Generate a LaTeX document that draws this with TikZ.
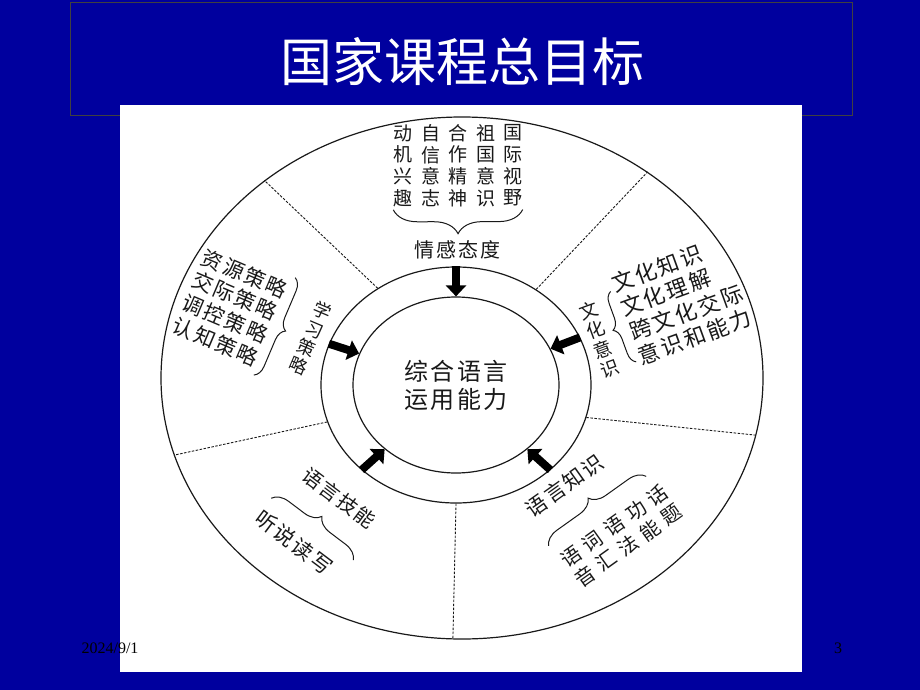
\documentclass[tikz,border=0pt]{standalone}
\usepackage{fontspec}
\setmainfont{Liberation Serif}
\newfontfamily\cjk{Noto Sans CJK SC}
\newfontfamily\cjkls[LetterSpace=10]{Noto Sans CJK SC}
\usetikzlibrary{positioning,shapes.geometric,arrows.meta,decorations.pathreplacing}
\definecolor{slideblue}{RGB}{0,0,158}
\definecolor{ink}{RGB}{25,25,25}

\begin{document}
\begin{tikzpicture}[x=1pt,y=1pt,
  ring/.style={ellipse, draw=ink, line width=1.2pt, inner sep=0pt},
  divider/.style={draw=ink, line width=0.9pt, dash pattern=on 2.5pt off 1.5pt},
  bigarrow/.style={draw=black, line width=8pt, -{Triangle[length=11pt,width=20pt]}},
  brc/.style={draw=ink, line width=1pt, decorate, decoration={brace, amplitude=#1}},
  brc/.default=14pt,
  word/.style={font=\cjkls\fontsize{20}{22}\selectfont, text=ink, inner sep=0pt},
  col/.style={font=\cjk\fontsize{19}{21.7}\selectfont, text=ink, align=center, inner sep=0pt},
  node distance=27.5pt]

  % slide
  \fill[slideblue] (0,0) rectangle (920,-690);
  \useasboundingbox (0,0) rectangle (920,-690);
  \draw[black!75, line width=0.8pt] (70,-2) rectangle (852,-115);
  \fill[white] (120,-105) rectangle (802,-672);
  \node[font=\cjk\fontsize{52}{60}\selectfont, text=white] (title) at (462,-62) {国家课程总目标};
  \node[font=\fontsize{16}{18}\selectfont, text=black] (date) at (110,-648) {2024/9/1};
  \node[font=\fontsize{16}{18}\selectfont, text=black] (page) at (838,-648) {3};

  % rings
  \node[ring, minimum width=602pt, minimum height=522pt] (outer) at (462,-378) {};
  \node[ring, minimum width=270pt, minimum height=236pt] (mid) at (456,-385) {};
  \node[ring, minimum width=206pt, minimum height=176pt] (core) at (456,-385) {};
  \node[font=\cjkls\fontsize{24}{28}\selectfont, align=center, text=ink] (goal) at (core.center) {综合语言\\运用能力};

  \foreach \a in {90,162,21,222,318}
    \draw[bigarrow] (mid.\a) -- (core.\a);

  \draw[divider] (mid.129) -- (outer.135);
  \draw[divider] (mid.50) -- (outer.48);
  \draw[divider] (mid.346) -- (outer.349);
  \draw[divider] (mid.196) -- (outer.195);
  \draw[divider] (mid.270) -- (outer.268.5);

  % top: affect
  \node[col] (c1) at (403,-165.5) {动\\机\\兴\\趣};
  \node[col, right of=c1] (c2) {自\\信\\意\\志};
  \node[col, right of=c2] (c3) {合\\作\\精\\神};
  \node[col, right of=c3] (c4) {祖\\国\\意\\识};
  \node[col, right of=c4] (c5) {国\\际\\视\\野};
  \draw[brc=24pt] ([yshift=-3pt]c5.south east) -- ([yshift=-3pt]c1.south west);
  \node[word] (feel) at (457,-250) {情感态度};

  % left: strategies
  \begin{scope}[shift={(230,-307.5)}, rotate=-23, transform shape]
    \node[word, align=left, font=\cjkls\fontsize{21}{24.7}\selectfont] (strat) at (0,0) {资源策略\\交际策略\\调控策略\\认知策略};
    \draw[brc=12pt] ([xshift=3pt,yshift=6pt]strat.north east) -- ([xshift=3pt,yshift=-6pt]strat.south east);
    \node[col, font=\cjk\fontsize{18}{20}\selectfont] (stratlbl) at (86,3) {学\\习\\策\\略};
  \end{scope}

  % right: culture
  \begin{scope}[shift={(625.6,-321)}, rotate=20, transform shape]
    \node[word, anchor=west, align=left, font=\cjkls\fontsize{22}{25.7}\selectfont] (culture) at (0,0) {文化知识\\文化理解\\跨文化交际\\意识和能力};
    \draw[brc=11pt] (-4,-42) -- (-4,33);
    \node[col, font=\cjk\fontsize{18.5}{20.7}\selectfont] (culturelbl) at (-31,-8.4) {文\\化\\意\\识};
  \end{scope}

  % bottom left: skills
  \begin{scope}[shift={(339,-498)}, rotate=-37, transform shape]
    \node[word] (skill) at (0,0) {语言技能};
    \draw[brc=16pt] (-54,-41) -- (49,-41);
    \node[word, font=\cjkls\fontsize{21}{24}\selectfont] (skillset) at (-9.3,-62.6) {听说读写};
  \end{scope}

  % bottom right: knowledge
  \begin{scope}[shift={(564.5,-485.5)}, rotate=35.5, transform shape, node distance=26.5pt]
    \node[word, font=\cjkls\fontsize{21}{24}\selectfont] (know) at (0,0) {语言知识};
    \draw[brc=16pt] (-48,-40) -- (72,-40);
    \node[col, font=\cjk\fontsize{20}{24}\selectfont] (k1) at (-36,-74) {语\\音};
    \node[col, font=\cjk\fontsize{20}{24}\selectfont, right of=k1] (k2) {词\\汇};
    \node[col, font=\cjk\fontsize{20}{24}\selectfont, right of=k2] (k3) {语\\法};
    \node[col, font=\cjk\fontsize{20}{24}\selectfont, right of=k3] (k4) {功\\能};
    \node[col, font=\cjk\fontsize{20}{24}\selectfont, right of=k4] (k5) {话\\题};
  \end{scope}

\end{tikzpicture}
\end{document}
